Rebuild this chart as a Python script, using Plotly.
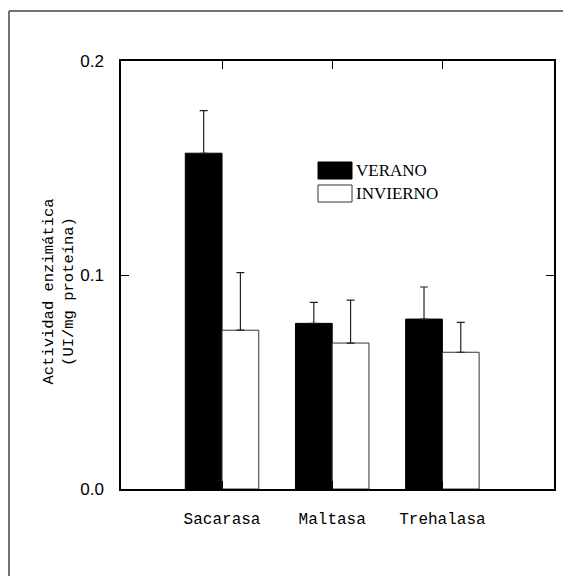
import plotly.graph_objects as go

categories = ["Sacarasa", "Maltasa", "Trehalasa"]
verano = [0.1569, 0.0774, 0.0794]
verano_err = [0.0199, 0.0098, 0.0150]
invierno = [0.0742, 0.0682, 0.0639]
invierno_err = [0.0269, 0.0201, 0.0140]
y_ticks = [0.0, 0.1, 0.2]
y_ticklabels = ["0.0", "0.1", "0.2"]

# page body has an 8px margin; work in screen coordinates and shift
OFF = 8
W, H = 571 - OFF, 576 - OFF
L, R, T, B = 121 - OFF, 554 - OFF, 61 - OFF, 489 - OFF

def px(x):
    return (x - OFF - L) / (R - L)

def py(y):
    return (B - (y - OFF)) / (B - T)

fig = go.Figure()
fig.add_trace(go.Bar(
    x=categories, y=verano, name="VERANO",
    marker=dict(color="black", line=dict(color="black", width=1)),
    error_y=dict(type="data", array=verano_err, arrayminus=[0]*3, symmetric=False,
                 color="#222", thickness=1.2, width=4),
))
fig.add_trace(go.Bar(
    x=categories, y=invierno, name="INVIERNO",
    marker=dict(color="white", line=dict(color="#333", width=1)),
    error_y=dict(type="data", array=invierno_err, arrayminus=[0]*3, symmetric=False,
                 color="#222", thickness=1.2, width=4),
))

fig.update_layout(
    width=W, height=H,
    margin=dict(l=L, r=W - R, t=T, b=H - B, pad=0),
    paper_bgcolor="white", plot_bgcolor="white",
    barmode="group", bargap=0.333, bargroupgap=0,
    showlegend=False,
    xaxis=dict(
        type="category", range=[-0.917, 3.013],
        showline=True, linecolor="black", linewidth=1.5, mirror="ticks",
        ticks="inside", ticklen=8, tickcolor="black", tickwidth=1.2,
        showgrid=False, zeroline=False, ticklabelstandoff=14,
        tickfont=dict(family="Liberation Mono", size=16, color="black"),
    ),
    yaxis=dict(
        range=[0, 0.2], tickvals=y_ticks, ticktext=y_ticklabels,
        showline=True, linecolor="black", linewidth=1.5, mirror="ticks",
        ticks="inside", ticklen=8, tickcolor="black", tickwidth=1.2,
        showgrid=False, zeroline=False, ticklabelstandoff=12,
        tickfont=dict(family="Arial, Liberation Sans", size=17, color="black"),
    ),
)

# outer frame (top and left edges)
fig.add_shape(type="line", xref="paper", yref="paper",
              x0=px(9), x1=px(571), y0=py(11), y1=py(11),
              line=dict(color="#444", width=1.5))
fig.add_shape(type="line", xref="paper", yref="paper",
              x0=px(9), x1=px(9), y0=py(11), y1=py(576),
              line=dict(color="#444", width=1.5))

# legend swatches
fig.add_shape(type="rect", xref="paper", yref="paper",
              x0=px(318), x1=px(352), y0=py(179), y1=py(162),
              fillcolor="black", line=dict(color="black", width=1))
fig.add_shape(type="rect", xref="paper", yref="paper",
              x0=px(318), x1=px(352), y0=py(202), y1=py(185),
              fillcolor="white", line=dict(color="#333", width=1))
fig.add_annotation(xref="paper", yref="paper", x=px(354), y=py(170.5),
                   text="VERANO", showarrow=False, xanchor="left", yanchor="middle",
                   font=dict(family="Liberation Serif", size=17, color="black"))
fig.add_annotation(xref="paper", yref="paper", x=px(354), y=py(193.5),
                   text="INVIERNO", showarrow=False, xanchor="left", yanchor="middle",
                   font=dict(family="Liberation Serif", size=17, color="black"))

# y-axis title
fig.add_annotation(xref="paper", yref="paper", x=px(58), y=py(291.5),
                   text="Actividad enzimática<br>(UI/mg proteína)", showarrow=False,
                   textangle=-90, xanchor="center", yanchor="middle",
                   font=dict(family="Liberation Mono", size=15.5, color="black"))

fig.write_html("out.html")
